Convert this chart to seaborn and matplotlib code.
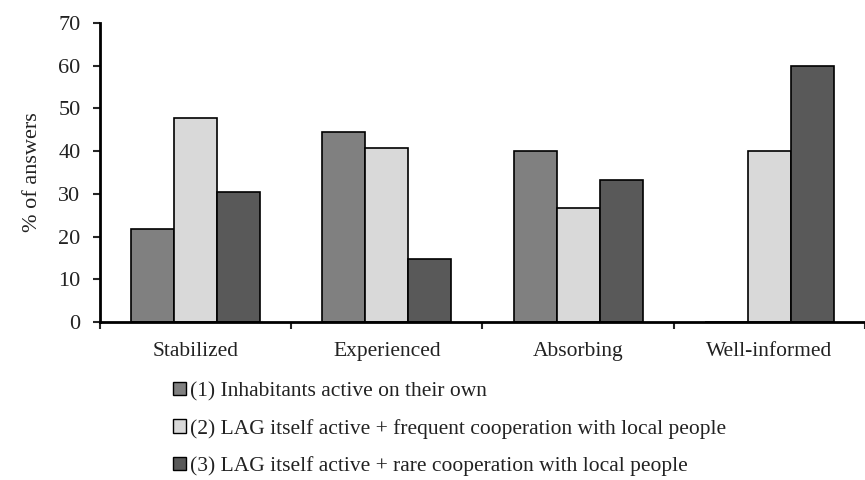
import pandas as pd
import seaborn as sns
import matplotlib.pyplot as plt
import matplotlib.patches as mpatches

categories = ["Stabilized", "Experienced", "Absorbing", "Well-informed"]
series = [
    "(1) Inhabitants active on their own",
    "(2) LAG itself active + frequent cooperation with local people",
    "(3) LAG itself active + rare cooperation with local people",
]
inhabitants = [21.7, 44.4, 40.0, 0.0]
frequent = [47.8, 40.7, 26.7, 40.0]
rare = [30.4, 14.8, 33.3, 60.0]
colors = ["#808080", "#d9d9d9", "#595959"]

rows = []
for name, vals in zip(series, [inhabitants, frequent, rare]):
    for cat, v in zip(categories, vals):
        rows.append({"category": cat, "series": name, "value": v})
df = pd.DataFrame(rows)

sns.set_theme(style="white")
plt.rcParams['font.family'] = ['Liberation Serif', 'DejaVu Serif']

fig = plt.figure(figsize=(8.65, 4.8), dpi=100)
ax = fig.add_axes([0.1156, 0.329, 0.8844, 0.623])

sns.barplot(data=df, x="category", y="value", hue="series", palette=colors,
            width=0.675, gap=0, edgecolor="black", linewidth=1.2, ax=ax,
            legend=False)

fs = 15.5
ax.set_ylim(0, 70)
ax.set_xlim(-0.5, 3.5)
ax.set_yticks(range(0, 71, 10))
ax.set_xlabel("")
ax.set_ylabel("% of answers", fontsize=16, color="#222222", labelpad=12)
sns.despine(ax=ax)
for s in ["left", "bottom"]:
    ax.spines[s].set_linewidth(2)
    ax.spines[s].set_color("black")

ax.tick_params(axis="y", which="major", direction="out", length=5, width=1.5,
               left=True, labelsize=16, labelcolor="#222222", pad=9)
ax.set_xticks([-0.5, 0.5, 1.5, 2.5, 3.5], minor=True)
ax.tick_params(axis="x", which="minor", direction="out", length=5, width=1.5, bottom=True)
ax.tick_params(axis="x", which="major", length=0, labelsize=fs, labelcolor="#222222", pad=14)

handles = [mpatches.Patch(facecolor=c, edgecolor="black", linewidth=1, label=s)
           for c, s in zip(colors, series)]
fig.legend(handles=handles, loc="upper left", bbox_to_anchor=(0.2, 0.205),
           frameon=False, fontsize=fs, handlelength=0.6, handleheight=0.6,
           handletextpad=0.2, labelspacing=0.82, borderaxespad=0, borderpad=0,
           labelcolor="#222222")

plt.savefig("out.png", dpi=100)
